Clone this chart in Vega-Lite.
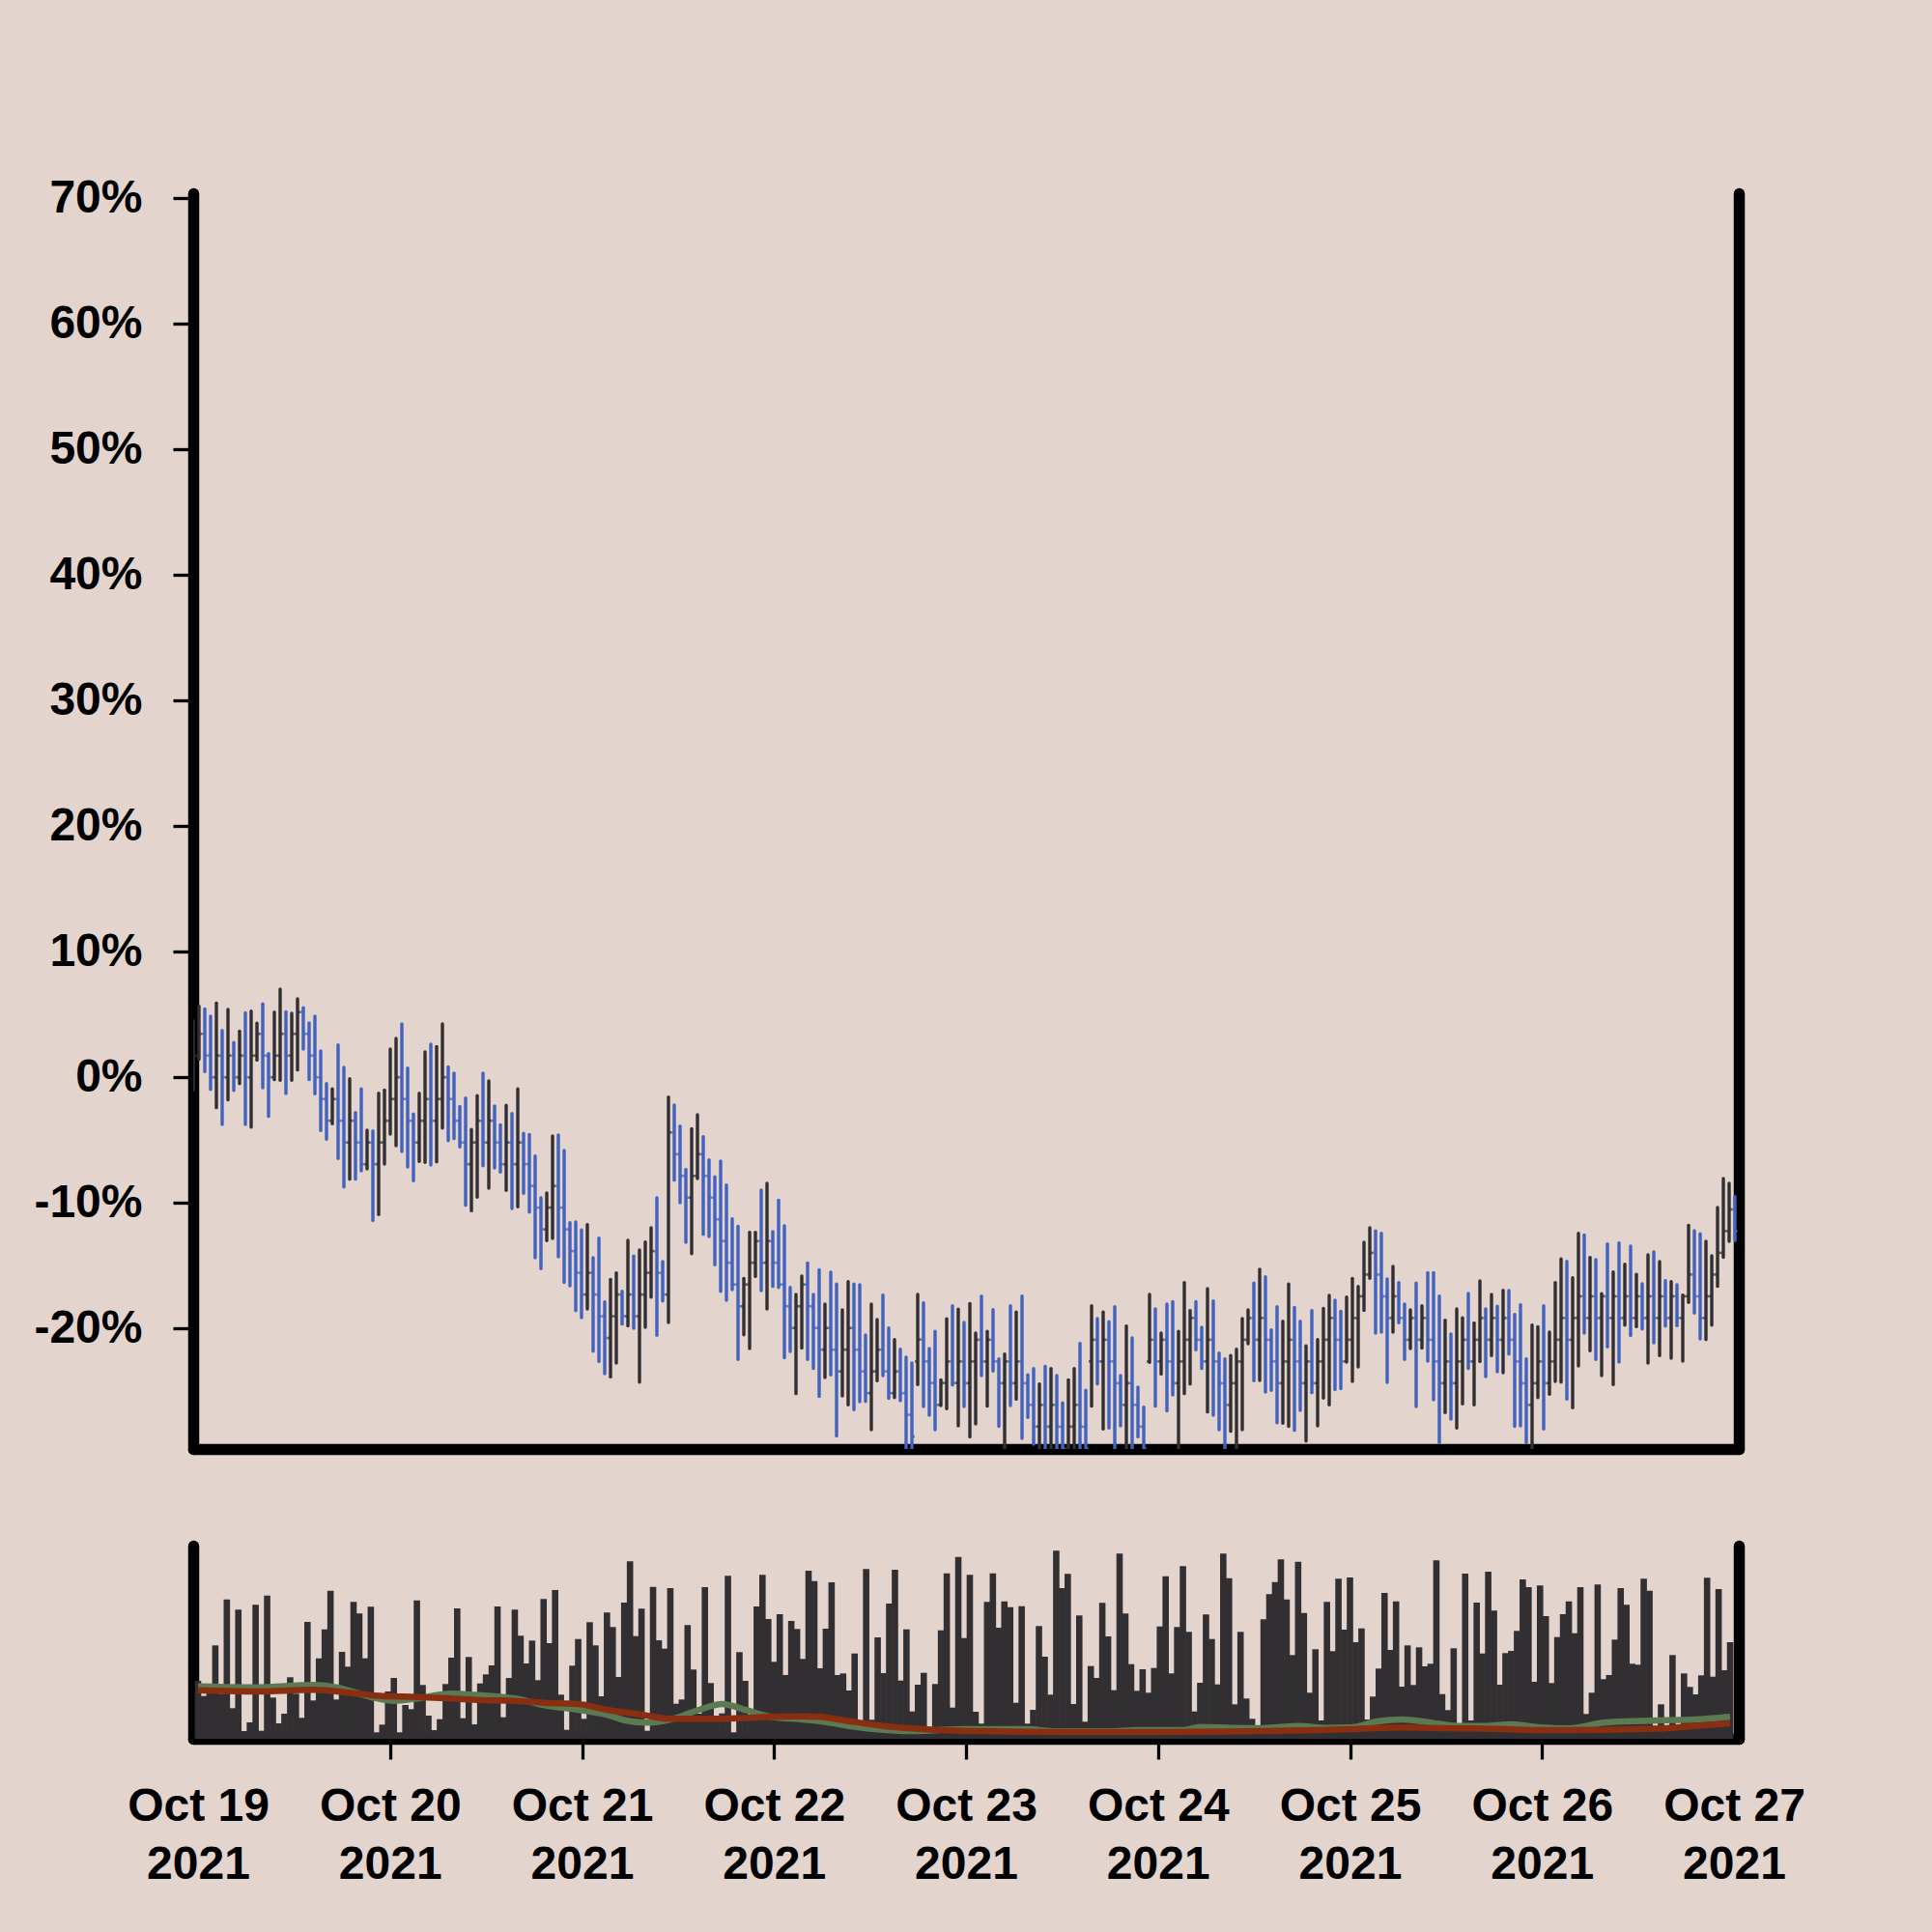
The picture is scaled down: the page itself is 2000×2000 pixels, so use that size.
{
"$schema": "https://vega.github.io/schema/vega-lite/v6.json",
"background": "#e3d4ce",
"padding": {"left": 34, "top": 181, "right": 200, "bottom": 200},
"bounds": "flush",
"spacing": 100,
"config": {
 "view": {"stroke": null},
 "font": "Liberation Sans",
 "axis": {"labelFont": "Liberation Sans", "labelFontSize": 48, "labelFontWeight": "bold", "labelColor": "#000000", "domainColor": "#000000", "domainWidth": 11.5, "domainCap": "round", "tickColor": "#000000", "tickWidth": 3.3, "tickSize": 21, "grid": false, "labelFlush": false, "labelOverlap": false}
},
"datasets": {
"bars": [
{"t":1634601600000,"o":0,"h":4.5,"l":-1.0,"c":1.73,"v":60},
{"t":1634604192000,"o":1.73,"h":5.66,"l":1.43,"c":3.46,"v":44.3},
{"t":1634606784000,"o":3.46,"h":5.45,"l":0.45,"c":1.73,"v":50},
{"t":1634609376000,"o":1.73,"h":4.86,"l":-0.96,"c":0,"v":96.7},
{"t":1634611968000,"o":0,"h":5.91,"l":-2.42,"c":1.73,"v":46.7},
{"t":1634614560000,"o":1.73,"h":3.73,"l":-3.75,"c":0,"v":144.3},
{"t":1634617152000,"o":0,"h":5.40,"l":-1.80,"c":1.73,"v":31.7},
{"t":1634619744000,"o":1.73,"h":2.76,"l":-1.04,"c":0,"v":133.7},
{"t":1634622336000,"o":0,"h":3.68,"l":-0.50,"c":1.73,"v":8},
{"t":1634624928000,"o":1.73,"h":5.14,"l":-3.75,"c":0,"v":17},
{"t":1634627520000,"o":0,"h":5.27,"l":-3.96,"c":1.73,"v":138.7},
{"t":1634630112000,"o":1.73,"h":4.30,"l":1.37,"c":3.46,"v":8.3},
{"t":1634632704000,"o":3.46,"h":5.84,"l":-0.83,"c":1.73,"v":148.3},
{"t":1634635296000,"o":1.73,"h":1.89,"l":-3.11,"c":0,"v":42.7},
{"t":1634637888000,"o":0,"h":5.19,"l":-0.19,"c":1.73,"v":16},
{"t":1634640480000,"o":1.73,"h":7.01,"l":-0.24,"c":3.46,"v":26},
{"t":1634643072000,"o":3.46,"h":5.22,"l":-1.29,"c":1.73,"v":63.7},
{"t":1634645664000,"o":1.73,"h":5.09,"l":-0.24,"c":3.46,"v":46.7},
{"t":1634648256000,"o":3.46,"h":6.25,"l":0.58,"c":5.19,"v":21.7},
{"t":1634650848000,"o":5.19,"h":5.53,"l":2.25,"c":3.46,"v":121},
{"t":1634653440000,"o":3.46,"h":4.32,"l":-0.19,"c":1.73,"v":39.7},
{"t":1634656032000,"o":1.73,"h":4.86,"l":-1.32,"c":0,"v":83.3},
{"t":1634658624000,"o":0,"h":2.09,"l":-4.24,"c":-1.73,"v":113.3},
{"t":1634661216000,"o":-1.73,"h":-0.50,"l":-4.93,"c":-3.46,"v":153.3},
{"t":1634663808000,"o":-3.46,"h":-0.93,"l":-3.70,"c":-1.73,"v":40.7},
{"t":1634666400000,"o":-1.73,"h":2.58,"l":-6.47,"c":-3.46,"v":90},
{"t":1634668992000,"o":-3.46,"h":0.78,"l":-8.73,"c":-5.19,"v":74.7},
{"t":1634671584000,"o":-5.19,"h":-0.11,"l":-8.11,"c":-3.46,"v":141.7},
{"t":1634674176000,"o":-3.46,"h":-2.81,"l":-8.11,"c":-5.19,"v":129.7},
{"t":1634676768000,"o":-5.19,"h":-0.93,"l":-7.45,"c":-6.92,"v":83.3},
{"t":1634679360000,"o":-6.92,"h":-4.22,"l":-7.29,"c":-5.19,"v":136.7},
{"t":1634681952000,"o":-5.19,"h":-4.27,"l":-11.40,"c":-6.92,"v":6.7},
{"t":1634684544000,"o":-6.92,"h":-1.27,"l":-10.93,"c":-5.19,"v":14.7},
{"t":1634687136000,"o":-5.19,"h":-1.01,"l":-6.91,"c":-3.46,"v":49},
{"t":1634689728000,"o":-3.46,"h":2.25,"l":-4.52,"c":-1.73,"v":63},
{"t":1634692320000,"o":-1.73,"h":3.09,"l":-5.45,"c":0,"v":6.7},
{"t":1634694912000,"o":0,"h":4.25,"l":-5.91,"c":-1.73,"v":35},
{"t":1634697504000,"o":-1.73,"h":0.73,"l":-7.14,"c":-3.46,"v":30.7},
{"t":1634700096000,"o":-3.46,"h":-2.93,"l":-8.24,"c":-5.19,"v":143.3},
{"t":1634702688000,"o":-5.19,"h":-1.27,"l":-6.70,"c":-3.46,"v":55.7},
{"t":1634705280000,"o":-3.46,"h":2.02,"l":-6.78,"c":-1.73,"v":24},
{"t":1634707872000,"o":-1.73,"h":2.63,"l":-6.98,"c":-3.46,"v":9},
{"t":1634710464000,"o":-3.46,"h":2.45,"l":-6.73,"c":-1.73,"v":20.3},
{"t":1634713056000,"o":-1.73,"h":4.25,"l":-4.04,"c":0,"v":56.7},
{"t":1634715648000,"o":0,"h":0.83,"l":-5.04,"c":-1.73,"v":84},
{"t":1634718240000,"o":-1.73,"h":0.32,"l":-4.88,"c":-3.46,"v":135},
{"t":1634720832000,"o":-3.46,"h":-2.32,"l":-5.55,"c":-5.19,"v":21.3},
{"t":1634723424000,"o":-5.19,"h":-1.65,"l":-10.19,"c":-6.92,"v":84.7},
{"t":1634726016000,"o":-6.92,"h":-4.16,"l":-10.63,"c":-5.19,"v":15},
{"t":1634728608000,"o":-5.19,"h":-1.47,"l":-9.55,"c":-3.46,"v":57.3},
{"t":1634731200000,"o":-3.46,"h":0.32,"l":-7.04,"c":-5.19,"v":66.7},
{"t":1634733792000,"o":-5.19,"h":-0.29,"l":-8.83,"c":-3.46,"v":76},
{"t":1634736384000,"o":-3.46,"h":-2.29,"l":-7.22,"c":-5.19,"v":137},
{"t":1634738976000,"o":-5.19,"h":-3.78,"l":-7.55,"c":-6.92,"v":22.3},
{"t":1634741568000,"o":-6.92,"h":-2.24,"l":-9.01,"c":-5.19,"v":63},
{"t":1634744160000,"o":-5.19,"h":-2.88,"l":-10.45,"c":-6.92,"v":133.7},
{"t":1634746752000,"o":-6.92,"h":-0.93,"l":-10.32,"c":-5.19,"v":106.7},
{"t":1634749344000,"o":-5.19,"h":-4.47,"l":-9.24,"c":-6.92,"v":78},
{"t":1634751936000,"o":-6.92,"h":-4.55,"l":-10.73,"c":-8.65,"v":101.7},
{"t":1634754528000,"o":-8.65,"h":-6.27,"l":-14.37,"c":-10.38,"v":60.7},
{"t":1634757120000,"o":-10.38,"h":-9.60,"l":-15.24,"c":-12.11,"v":144.7},
{"t":1634759712000,"o":-12.11,"h":-9.22,"l":-13.01,"c":-10.38,"v":99},
{"t":1634762304000,"o":-10.38,"h":-4.68,"l":-12.83,"c":-8.65,"v":154},
{"t":1634764896000,"o":-8.65,"h":-4.60,"l":-14.29,"c":-10.38,"v":45.7},
{"t":1634767488000,"o":-10.38,"h":-5.83,"l":-16.34,"c":-12.11,"v":9.3},
{"t":1634770080000,"o":-12.11,"h":-11.57,"l":-16.60,"c":-13.84,"v":75.7},
{"t":1634772672000,"o":-13.84,"h":-11.52,"l":-18.58,"c":-15.57,"v":103.3},
{"t":1634775264000,"o":-15.57,"h":-12.16,"l":-19.14,"c":-17.30,"v":20.7},
{"t":1634777856000,"o":-17.30,"h":-11.73,"l":-18.45,"c":-15.57,"v":120.7},
{"t":1634780448000,"o":-15.57,"h":-14.37,"l":-21.81,"c":-17.30,"v":96.7},
{"t":1634783040000,"o":-17.30,"h":-12.80,"l":-22.63,"c":-19.03,"v":44},
{"t":1634785632000,"o":-19.03,"h":-17.88,"l":-23.60,"c":-20.76,"v":130.7},
{"t":1634788224000,"o":-20.76,"h":-16.09,"l":-23.86,"c":-19.03,"v":115.7},
{"t":1634790816000,"o":-19.03,"h":-15.57,"l":-22.75,"c":-17.30,"v":64},
{"t":1634793408000,"o":-17.30,"h":-17.04,"l":-19.65,"c":-19.03,"v":141},
{"t":1634796000000,"o":-19.03,"h":-12.98,"l":-19.80,"c":-17.30,"v":183.7},
{"t":1634798592000,"o":-17.30,"h":-14.24,"l":-19.98,"c":-19.03,"v":106.3},
{"t":1634801184000,"o":-19.03,"h":-13.75,"l":-24.27,"c":-17.30,"v":134.7},
{"t":1634803776000,"o":-17.30,"h":-13.11,"l":-19.91,"c":-15.57,"v":8.3},
{"t":1634806368000,"o":-15.57,"h":-11.98,"l":-17.50,"c":-13.84,"v":157.3},
{"t":1634808960000,"o":-13.84,"h":-9.60,"l":-20.55,"c":-15.57,"v":102},
{"t":1634811552000,"o":-15.57,"h":-14.68,"l":-17.81,"c":-17.30,"v":93.3},
{"t":1634814144000,"o":-17.30,"h":-1.57,"l":-19.52,"c":-4.39,"v":156},
{"t":1634816736000,"o":-4.39,"h":-2.22,"l":-8.19,"c":-6.12,"v":36.3},
{"t":1634819328000,"o":-6.12,"h":-3.88,"l":-9.98,"c":-7.85,"v":40.7},
{"t":1634821920000,"o":-7.85,"h":-7.34,"l":-13.14,"c":-9.58,"v":117.7},
{"t":1634824512000,"o":-9.58,"h":-4.09,"l":-14.04,"c":-7.85,"v":71.7},
{"t":1634827104000,"o":-7.85,"h":-2.98,"l":-8.06,"c":-6.12,"v":26},
{"t":1634829696000,"o":-6.12,"h":-4.73,"l":-12.50,"c":-7.85,"v":157},
{"t":1634832288000,"o":-7.85,"h":-6.57,"l":-12.68,"c":-9.58,"v":57.7},
{"t":1634834880000,"o":-9.58,"h":-7.93,"l":-14.93,"c":-11.31,"v":23.3},
{"t":1634837472000,"o":-11.31,"h":-6.68,"l":-17.04,"c":-13.04,"v":26.3},
{"t":1634840064000,"o":-13.04,"h":-8.57,"l":-17.75,"c":-14.77,"v":168.7},
{"t":1634842656000,"o":-14.77,"h":-11.27,"l":-16.91,"c":-16.50,"v":6.7},
{"t":1634845248000,"o":-16.50,"h":-11.86,"l":-22.47,"c":-18.23,"v":89.7},
{"t":1634847840000,"o":-18.23,"h":-16.01,"l":-20.50,"c":-16.50,"v":60},
{"t":1634850432000,"o":-16.50,"h":-12.34,"l":-21.60,"c":-14.77,"v":23.3},
{"t":1634853024000,"o":-14.77,"h":-12.34,"l":-15.86,"c":-13.04,"v":137},
{"t":1634855616000,"o":-13.04,"h":-8.98,"l":-16.98,"c":-14.77,"v":169.7},
{"t":1634858208000,"o":-14.77,"h":-8.45,"l":-18.45,"c":-13.04,"v":124},
{"t":1634860800000,"o":-13.04,"h":-12.29,"l":-16.65,"c":-14.77,"v":79.7},
{"t":1634863392000,"o":-14.77,"h":-9.78,"l":-16.73,"c":-16.50,"v":129},
{"t":1634865984000,"o":-16.50,"h":-11.83,"l":-22.34,"c":-18.23,"v":66},
{"t":1634868576000,"o":-18.23,"h":-16.73,"l":-21.83,"c":-19.96,"v":122},
{"t":1634871168000,"o":-19.96,"h":-17.29,"l":-25.19,"c":-18.23,"v":113.7},
{"t":1634873760000,"o":-18.23,"h":-15.83,"l":-21.57,"c":-16.50,"v":82.7},
{"t":1634876352000,"o":-16.50,"h":-14.78,"l":-22.47,"c":-18.23,"v":174},
{"t":1634878944000,"o":-18.23,"h":-17.29,"l":-23.19,"c":-19.96,"v":163.3},
{"t":1634881536000,"o":-19.96,"h":-15.32,"l":-25.42,"c":-21.69,"v":73},
{"t":1634884128000,"o":-21.69,"h":-18.06,"l":-23.91,"c":-19.96,"v":114},
{"t":1634886720000,"o":-19.96,"h":-15.52,"l":-23.70,"c":-21.69,"v":162},
{"t":1634889312000,"o":-21.69,"h":-16.47,"l":-28.57,"c":-23.42,"v":66},
{"t":1634891904000,"o":-23.42,"h":-18.52,"l":-25.37,"c":-21.69,"v":67.7},
{"t":1634894496000,"o":-21.69,"h":-16.27,"l":-26.09,"c":-19.96,"v":50},
{"t":1634897088000,"o":-19.96,"h":-16.47,"l":-26.47,"c":-21.69,"v":88.3},
{"t":1634899680000,"o":-21.69,"h":-16.52,"l":-25.83,"c":-23.42,"v":13.3},
{"t":1634902272000,"o":-23.42,"h":-20.52,"l":-25.81,"c":-25.15,"v":175.7},
{"t":1634904864000,"o":-25.15,"h":-18.06,"l":-28.06,"c":-23.42,"v":19.7},
{"t":1634907456000,"o":-23.42,"h":-19.29,"l":-24.16,"c":-21.69,"v":105},
{"t":1634910048000,"o":-21.69,"h":-17.34,"l":-23.75,"c":-23.42,"v":68},
{"t":1634912640000,"o":-23.42,"h":-19.96,"l":-25.57,"c":-25.15,"v":140},
{"t":1634915232000,"o":-25.15,"h":-20.88,"l":-25.50,"c":-23.42,"v":175},
{"t":1634917824000,"o":-23.42,"h":-21.65,"l":-25.75,"c":-25.15,"v":60.3},
{"t":1634920416000,"o":-25.15,"h":-22.29,"l":-31.0,"c":-26.88,"v":113.3},
{"t":1634923008000,"o":-26.88,"h":-22.75,"l":-31.0,"c":-28.61,"v":28.3},
{"t":1634925600000,"o":-22.63,"h":-17.29,"l":-24.47,"c":-20.88,"v":56},
{"t":1634928192000,"o":-20.88,"h":-17.96,"l":-26.22,"c":-22.63,"v":68.3},
{"t":1634930784000,"o":-22.63,"h":-21.60,"l":-26.91,"c":-24.34,"v":10.7},
{"t":1634933376000,"o":-24.34,"h":-20.24,"l":-28.06,"c":-26.09,"v":56.7},
{"t":1634935968000,"o":-26.09,"h":-24.09,"l":-26.14,"c":-24.34,"v":112.3},
{"t":1634938560000,"o":-24.34,"h":-19.24,"l":-26.39,"c":-22.63,"v":171.3},
{"t":1634941152000,"o":-22.63,"h":-18.19,"l":-24.50,"c":-24.34,"v":32.3},
{"t":1634943744000,"o":-24.34,"h":-18.47,"l":-27.75,"c":-22.63,"v":188.3},
{"t":1634946336000,"o":-22.63,"h":-19.52,"l":-26.22,"c":-24.36,"v":104.3},
{"t":1634948928000,"o":-24.36,"h":-18.01,"l":-28.63,"c":-22.63,"v":169.7},
{"t":1634951520000,"o":-22.63,"h":-20.37,"l":-27.60,"c":-20.90,"v":28},
{"t":1634954112000,"o":-20.90,"h":-17.42,"l":-23.75,"c":-22.63,"v":15.7},
{"t":1634956704000,"o":-22.63,"h":-20.24,"l":-26.19,"c":-20.90,"v":141.7},
{"t":1634959296000,"o":-20.90,"h":-18.50,"l":-23.39,"c":-22.63,"v":171.3},
{"t":1634961888000,"o":-22.63,"h":-22.42,"l":-27.80,"c":-24.36,"v":115},
{"t":1634964480000,"o":-24.36,"h":-22.04,"l":-30.5,"c":-22.63,"v":142.3},
{"t":1634967072000,"o":-22.63,"h":-18.19,"l":-26.14,"c":-24.36,"v":136.3},
{"t":1634969664000,"o":-24.36,"h":-18.70,"l":-25.63,"c":-22.63,"v":37.3},
{"t":1634972256000,"o":-22.63,"h":-17.42,"l":-28.75,"c":-24.36,"v":137.3},
{"t":1634974848000,"o":-24.36,"h":-23.70,"l":-27.09,"c":-26.09,"v":15.7},
{"t":1634977440000,"o":-26.09,"h":-23.19,"l":-29.22,"c":-27.82,"v":30},
{"t":1634980032000,"o":-27.82,"h":-24.42,"l":-30.5,"c":-26.09,"v":116.7},
{"t":1634982624000,"o":-26.09,"h":-23.01,"l":-30.0,"c":-27.82,"v":85},
{"t":1634985216000,"o":-27.82,"h":-23.19,"l":-30.5,"c":-26.09,"v":45.7},
{"t":1634987808000,"o":-26.09,"h":-23.75,"l":-30.0,"c":-27.82,"v":194.7},
{"t":1634990400000,"o":-27.82,"h":-25.93,"l":-31.0,"c":-29.55,"v":156},
{"t":1634992992000,"o":-29.55,"h":-24.09,"l":-30.5,"c":-27.82,"v":170.7},
{"t":1634995584000,"o":-27.82,"h":-23.19,"l":-30.5,"c":-26.09,"v":36},
{"t":1634998176000,"o":-26.09,"h":-21.19,"l":-30.5,"c":-27.82,"v":127.7},
{"t":1635000768000,"o":-27.82,"h":-24.93,"l":-30.5,"c":-29.55,"v":17.7},
{"t":1635003360000,"o":-22.63,"h":-18.19,"l":-26.19,"c":-20.90,"v":75.3},
{"t":1635005952000,"o":-20.90,"h":-19.22,"l":-24.42,"c":-22.63,"v":63},
{"t":1635008544000,"o":-22.63,"h":-18.70,"l":-28.01,"c":-20.90,"v":140.7},
{"t":1635011136000,"o":-20.90,"h":-19.47,"l":-27.93,"c":-22.63,"v":106},
{"t":1635013728000,"o":-22.63,"h":-18.27,"l":-30.5,"c":-24.36,"v":50.3},
{"t":1635016320000,"o":-24.36,"h":-23.75,"l":-27.75,"c":-26.09,"v":191.7},
{"t":1635018912000,"o":-26.09,"h":-19.80,"l":-30.5,"c":-24.36,"v":129.7},
{"t":1635021504000,"o":-24.36,"h":-20.75,"l":-30.5,"c":-26.09,"v":77.3},
{"t":1635024096000,"o":-26.09,"h":-24.68,"l":-28.63,"c":-27.82,"v":49.7},
{"t":1635026688000,"o":-27.82,"h":-26.27,"l":-31.0,"c":-29.55,"v":72},
{"t":1635029280000,"o":-22.63,"h":-17.29,"l":-22.70,"c":-20.90,"v":47.7},
{"t":1635031872000,"o":-20.90,"h":-18.45,"l":-26.19,"c":-22.63,"v":73.3},
{"t":1635034464000,"o":-22.63,"h":-20.37,"l":-23.63,"c":-20.90,"v":116.3},
{"t":1635037056000,"o":-20.90,"h":-18.06,"l":-26.57,"c":-22.63,"v":168.3},
{"t":1635039648000,"o":-22.63,"h":-17.86,"l":-25.29,"c":-24.36,"v":67.7},
{"t":1635042240000,"o":-24.36,"h":-20.24,"l":-30.5,"c":-22.63,"v":115.7},
{"t":1635044832000,"o":-22.63,"h":-16.34,"l":-25.19,"c":-20.90,"v":178.7},
{"t":1635047424000,"o":-20.90,"h":-18.57,"l":-24.42,"c":-19.17,"v":110.7},
{"t":1635050016000,"o":-19.17,"h":-17.86,"l":-21.70,"c":-20.90,"v":28.3},
{"t":1635052608000,"o":-20.90,"h":-19.91,"l":-23.19,"c":-22.63,"v":58},
{"t":1635055200000,"o":-22.63,"h":-16.83,"l":-26.65,"c":-20.90,"v":128.7},
{"t":1635057792000,"o":-20.90,"h":-17.80,"l":-26.91,"c":-22.63,"v":103.3},
{"t":1635060384000,"o":-22.63,"h":-21.96,"l":-28.06,"c":-24.36,"v":56.3},
{"t":1635062976000,"o":-24.36,"h":-22.42,"l":-30.5,"c":-26.09,"v":191.7},
{"t":1635065568000,"o":-26.09,"h":-22.16,"l":-28.19,"c":-24.36,"v":166.3},
{"t":1635068160000,"o":-24.36,"h":-21.65,"l":-30.5,"c":-22.63,"v":35.7},
{"t":1635070752000,"o":-22.63,"h":-19.22,"l":-28.06,"c":-20.90,"v":110.7},
{"t":1635073344000,"o":-20.90,"h":-18.52,"l":-21.22,"c":-19.17,"v":41.7},
{"t":1635075936000,"o":-19.17,"h":-16.39,"l":-24.16,"c":-20.90,"v":20.7},
{"t":1635078528000,"o":-20.90,"h":-15.29,"l":-24.14,"c":-19.17,"v":12.3},
{"t":1635081120000,"o":-19.17,"h":-15.88,"l":-25.06,"c":-20.90,"v":123.7},
{"t":1635083712000,"o":-20.90,"h":-20.11,"l":-24.93,"c":-22.63,"v":149.7},
{"t":1635086304000,"o":-22.63,"h":-18.27,"l":-27.50,"c":-24.36,"v":162.3},
{"t":1635088896000,"o":-24.36,"h":-19.42,"l":-27.55,"c":-22.63,"v":185.7},
{"t":1635091488000,"o":-22.63,"h":-16.47,"l":-27.80,"c":-20.90,"v":144.3},
{"t":1635094080000,"o":-20.90,"h":-18.32,"l":-28.11,"c":-22.63,"v":86.7},
{"t":1635096672000,"o":-22.63,"h":-19.42,"l":-26.52,"c":-24.36,"v":183.3},
{"t":1635099264000,"o":-24.36,"h":-21.39,"l":-28.96,"c":-22.63,"v":130.3},
{"t":1635101856000,"o":-22.63,"h":-18.57,"l":-25.11,"c":-24.36,"v":47.7},
{"t":1635104448000,"o":-24.36,"h":-20.88,"l":-27.75,"c":-22.63,"v":92.7},
{"t":1635107040000,"o":-22.63,"h":-18.40,"l":-25.55,"c":-20.90,"v":19},
{"t":1635109632000,"o":-20.90,"h":-17.37,"l":-26.09,"c":-19.17,"v":141.7},
{"t":1635112224000,"o":-19.17,"h":-17.75,"l":-24.86,"c":-20.90,"v":90.7},
{"t":1635114816000,"o":-20.90,"h":-18.63,"l":-24.80,"c":-22.63,"v":165.7},
{"t":1635117408000,"o":-22.63,"h":-17.50,"l":-22.68,"c":-20.90,"v":113},
{"t":1635120000000,"o":-20.90,"h":-16.01,"l":-24.22,"c":-19.17,"v":167},
{"t":1635122592000,"o":-19.17,"h":-16.65,"l":-23.06,"c":-17.44,"v":100},
{"t":1635125184000,"o":-17.44,"h":-13.14,"l":-18.57,"c":-15.71,"v":114.3},
{"t":1635127776000,"o":-15.71,"h":-11.98,"l":-16.01,"c":-13.98,"v":20},
{"t":1635130368000,"o":-13.98,"h":-12.24,"l":-20.37,"c":-15.71,"v":43.7},
{"t":1635132960000,"o":-15.71,"h":-12.42,"l":-20.29,"c":-17.44,"v":72.7},
{"t":1635135552000,"o":-17.44,"h":-16.06,"l":-24.29,"c":-19.17,"v":151},
{"t":1635138144000,"o":-19.17,"h":-15.06,"l":-20.29,"c":-17.44,"v":92},
{"t":1635140736000,"o":-17.44,"h":-16.34,"l":-19.55,"c":-19.17,"v":142.3},
{"t":1635143328000,"o":-19.17,"h":-18.06,"l":-22.47,"c":-20.90,"v":54},
{"t":1635145920000,"o":-20.90,"h":-18.52,"l":-21.60,"c":-19.17,"v":96.7},
{"t":1635148512000,"o":-19.17,"h":-16.39,"l":-26.22,"c":-20.90,"v":55.7},
{"t":1635151104000,"o":-20.90,"h":-18.19,"l":-21.57,"c":-19.17,"v":94.7},
{"t":1635153696000,"o":-19.17,"h":-15.55,"l":-22.60,"c":-20.90,"v":75},
{"t":1635156288000,"o":-20.90,"h":-15.55,"l":-25.68,"c":-22.63,"v":77.7},
{"t":1635158880000,"o":-22.63,"h":-17.42,"l":-29.09,"c":-24.36,"v":184.7},
{"t":1635161472000,"o":-24.36,"h":-19.34,"l":-26.70,"c":-22.63,"v":46.3},
{"t":1635164064000,"o":-22.63,"h":-20.45,"l":-27.22,"c":-24.36,"v":29.7},
{"t":1635166656000,"o":-24.36,"h":-18.45,"l":-27.93,"c":-22.63,"v":93.7},
{"t":1635169248000,"o":-22.63,"h":-19.16,"l":-26.01,"c":-20.90,"v":13.3},
{"t":1635171840000,"o":-20.90,"h":-17.21,"l":-23.19,"c":-22.63,"v":171},
{"t":1635174432000,"o":-22.63,"h":-19.55,"l":-26.09,"c":-20.90,"v":19},
{"t":1635177024000,"o":-20.90,"h":-16.22,"l":-22.63,"c":-19.17,"v":141},
{"t":1635179616000,"o":-19.17,"h":-18.45,"l":-23.83,"c":-20.90,"v":88.3},
{"t":1635182208000,"o":-20.90,"h":-17.29,"l":-22.16,"c":-19.17,"v":173},
{"t":1635184800000,"o":-19.17,"h":-18.24,"l":-23.45,"c":-20.90,"v":132.7},
{"t":1635187392000,"o":-20.90,"h":-16.96,"l":-23.52,"c":-19.17,"v":56},
{"t":1635189984000,"o":-19.17,"h":-16.98,"l":-22.04,"c":-20.90,"v":88.7},
{"t":1635192576000,"o":-20.90,"h":-18.88,"l":-27.80,"c":-22.63,"v":91},
{"t":1635195168000,"o":-22.63,"h":-18.11,"l":-27.75,"c":-24.36,"v":111.7},
{"t":1635197760000,"o":-24.36,"h":-22.42,"l":-29.09,"c":-26.09,"v":165},
{"t":1635200352000,"o":-26.09,"h":-19.73,"l":-29.8,"c":-24.36,"v":157},
{"t":1635202944000,"o":-24.36,"h":-19.86,"l":-25.50,"c":-22.63,"v":59},
{"t":1635205536000,"o":-22.63,"h":-18.19,"l":-28.01,"c":-24.36,"v":158.7},
{"t":1635208128000,"o":-24.36,"h":-20.29,"l":-25.24,"c":-22.63,"v":127},
{"t":1635210720000,"o":-22.63,"h":-16.34,"l":-24.22,"c":-20.90,"v":57.7},
{"t":1635213312000,"o":-20.90,"h":-14.47,"l":-24.27,"c":-19.17,"v":105.3},
{"t":1635215904000,"o":-19.17,"h":-14.65,"l":-25.63,"c":-20.90,"v":129},
{"t":1635218496000,"o":-20.90,"h":-15.96,"l":-26.32,"c":-19.17,"v":142.3},
{"t":1635221088000,"o":-19.17,"h":-12.42,"l":-22.99,"c":-17.44,"v":109.3},
{"t":1635223680000,"o":-17.44,"h":-12.55,"l":-20.37,"c":-19.17,"v":157},
{"t":1635226272000,"o":-19.17,"h":-14.34,"l":-21.78,"c":-17.44,"v":25.7},
{"t":1635228864000,"o":-17.44,"h":-14.52,"l":-22.47,"c":-19.17,"v":47.7},
{"t":1635231456000,"o":-19.17,"h":-17.24,"l":-23.75,"c":-17.44,"v":159.7},
{"t":1635234048000,"o":-17.44,"h":-13.27,"l":-21.47,"c":-19.17,"v":61.7},
{"t":1635236640000,"o":-19.17,"h":-15.50,"l":-24.47,"c":-17.44,"v":66},
{"t":1635239232000,"o":-17.44,"h":-13.19,"l":-22.68,"c":-19.17,"v":102.7},
{"t":1635241824000,"o":-19.17,"h":-14.88,"l":-19.73,"c":-17.44,"v":156},
{"t":1635244416000,"o":-17.44,"h":-13.45,"l":-20.57,"c":-19.17,"v":138.7},
{"t":1635247008000,"o":-19.17,"h":-15.70,"l":-19.86,"c":-17.44,"v":77.7},
{"t":1635249600000,"o":-17.44,"h":-16.45,"l":-20.04,"c":-19.17,"v":76.7},
{"t":1635252192000,"o":-19.17,"h":-14.14,"l":-22.75,"c":-17.44,"v":165.7},
{"t":1635254784000,"o":-17.44,"h":-13.91,"l":-21.14,"c":-19.17,"v":153.3},
{"t":1635257376000,"o":-19.17,"h":-14.68,"l":-22.16,"c":-17.44,"v":13.3},
{"t":1635259968000,"o":-17.44,"h":-16.19,"l":-19.81,"c":-19.17,"v":35.7},
{"t":1635262560000,"o":-19.17,"h":-16.27,"l":-22.37,"c":-17.44,"v":10},
{"t":1635265152000,"o":-17.44,"h":-16.52,"l":-19.78,"c":-19.17,"v":86.7},
{"t":1635267744000,"o":-19.17,"h":-17.34,"l":-22.60,"c":-17.44,"v":13.3},
{"t":1635270336000,"o":-17.44,"h":-11.78,"l":-17.93,"c":-15.71,"v":67.7},
{"t":1635272928000,"o":-15.71,"h":-12.22,"l":-18.78,"c":-17.44,"v":53.7},
{"t":1635275520000,"o":-17.44,"h":-12.47,"l":-20.83,"c":-19.17,"v":46},
{"t":1635278112000,"o":-19.17,"h":-13.06,"l":-20.88,"c":-17.44,"v":65.7},
{"t":1635280704000,"o":-17.44,"h":-14.22,"l":-19.73,"c":-15.71,"v":166.7},
{"t":1635283296000,"o":-15.71,"h":-10.37,"l":-16.65,"c":-13.98,"v":64.3},
{"t":1635285888000,"o":-13.98,"h":-8.06,"l":-14.34,"c":-12.25,"v":155},
{"t":1635288480000,"o":-12.25,"h":-8.45,"l":-13.06,"c":-10.52,"v":71},
{"t":1635291072000,"o":-10.52,"h":-9.5,"l":-13.0,"c":-12.25,"v":100}
],
"green": [
{"t":1634601600000,"v":54.3},{"t":1634627520000,"v":53.3},{"t":1634653440000,"v":55.7},{"t":1634663808000,"v":53.3},
{"t":1634679360000,"v":43.3},{"t":1634689728000,"v":39.3},{"t":1634700096000,"v":41.7},{"t":1634715648000,"v":46.7},
{"t":1634728608000,"v":45},{"t":1634744160000,"v":41.7},{"t":1634757120000,"v":35},{"t":1634772672000,"v":30},
{"t":1634785632000,"v":25},{"t":1634793408000,"v":19.3},{"t":1634803776000,"v":16.7},{"t":1634814144000,"v":20},
{"t":1634827104000,"v":30},{"t":1634837472000,"v":36},{"t":1634847840000,"v":30},{"t":1634858208000,"v":23.3},
{"t":1634873760000,"v":20},{"t":1634881536000,"v":18.3},{"t":1634894496000,"v":13.3},{"t":1634910048000,"v":9.3},
{"t":1634923008000,"v":8},{"t":1634946336000,"v":10},{"t":1634959296000,"v":10},{"t":1634974848000,"v":10},
{"t":1634987808000,"v":7.7},{"t":1635011136000,"v":7.7},{"t":1635024096000,"v":9},{"t":1635044832000,"v":9},
{"t":1635052608000,"v":12.3},{"t":1635068160000,"v":11.3},{"t":1635081120000,"v":11},{"t":1635096672000,"v":13.3},
{"t":1635109632000,"v":11.3},{"t":1635120000000,"v":11.7},{"t":1635132960000,"v":18.3},{"t":1635143328000,"v":20},
{"t":1635161472000,"v":15},{"t":1635169248000,"v":13.3},{"t":1635182208000,"v":13.3},{"t":1635192576000,"v":15},
{"t":1635205536000,"v":11.7},{"t":1635218496000,"v":10.7},{"t":1635234048000,"v":16.7},{"t":1635247008000,"v":18.3},
{"t":1635262560000,"v":19.3},{"t":1635275520000,"v":20},{"t":1635291072000,"v":22.7}
],
"red": [
{"t":1634601600000,"v":50.3},{"t":1634627520000,"v":49},{"t":1634653440000,"v":50.7},{"t":1634671584000,"v":47.3},
{"t":1634684544000,"v":44.3},{"t":1634700096000,"v":43.3},{"t":1634715648000,"v":41.7},{"t":1634728608000,"v":40},
{"t":1634744160000,"v":39.3},{"t":1634757120000,"v":37.3},{"t":1634772672000,"v":36},{"t":1634785632000,"v":30},
{"t":1634801184000,"v":25},{"t":1634814144000,"v":20.7},{"t":1634829696000,"v":20.7},{"t":1634845248000,"v":21.3},
{"t":1634858208000,"v":22.7},{"t":1634873760000,"v":23.3},{"t":1634881536000,"v":22.7},{"t":1634894496000,"v":18.3},
{"t":1634910048000,"v":13.3},{"t":1634923008000,"v":10.7},{"t":1634946336000,"v":8.3},{"t":1634990400000,"v":7},
{"t":1635034464000,"v":7},{"t":1635073344000,"v":7.7},{"t":1635088896000,"v":8.3},{"t":1635104448000,"v":9},
{"t":1635120000000,"v":10},{"t":1635132960000,"v":11.3},{"t":1635145920000,"v":11.7},{"t":1635161472000,"v":11},
{"t":1635174432000,"v":10.7},{"t":1635189984000,"v":10},{"t":1635205536000,"v":9},{"t":1635218496000,"v":9},
{"t":1635234048000,"v":9.3},{"t":1635247008000,"v":10},{"t":1635262560000,"v":11},{"t":1635275520000,"v":13.3},
{"t":1635291072000,"v":16}
]
},
"vconcat": [
{
 "width": 1600, "height": 1300,
 "data": {"name": "bars"},
 "encoding": {
  "x": {"field": "t", "type": "temporal", "scale": {"type": "utc", "domain": [1634601600000, 1635292800000]}, "axis": {"orient": "bottom", "labels": false, "ticks": false, "title": null}}
 },
 "layer": [
  {"mark": {"type": "rule", "strokeWidth": 3.4, "strokeCap": "round", "clip": true},
   "encoding": {
    "y": {"field": "l", "type": "quantitative", "scale": {"domain": [-29.6, 70.4], "nice": false, "zero": false}, "axis": {"orient": "left", "values": [-20, -10, 0, 10, 20, 30, 40, 50, 60, 70], "labelExpr": "datum.value + '%'", "labelPadding": 32, "title": null}},
    "y2": {"field": "h"},
    "color": {"condition": {"test": "datum.c >= datum.o", "value": "#312f31"}, "value": "#4262be"}
   }},
  {"mark": {"type": "tick", "orient": "horizontal", "size": 3, "thickness": 2.6, "xOffset": -1.5, "clip": true},
   "encoding": {
    "y": {"field": "o", "type": "quantitative", "axis": null},
    "color": {"condition": {"test": "datum.c >= datum.o", "value": "#312f31"}, "value": "#4262be"}
   }},
  {"mark": {"type": "tick", "orient": "horizontal", "size": 3, "thickness": 2.6, "xOffset": 1.5, "clip": true},
   "encoding": {
    "y": {"field": "c", "type": "quantitative", "axis": {"orient": "right", "labels": false, "ticks": false, "title": null}},
    "color": {"condition": {"test": "datum.c >= datum.o", "value": "#312f31"}, "value": "#4262be"}
   }}
 ],
 "resolve": {"axis": {"y": "independent"}}
},
{
 "width": 1600, "height": 200,
 "encoding": {
  "x": {"field": "t", "type": "temporal", "scale": {"type": "utc", "domain": [1634601600000, 1635292800000]},
        "axis": {"orient": "bottom", "values": [1634601600000, 1634688000000, 1634774400000, 1634860800000, 1634947200000, 1635033600000, 1635120000000, 1635206400000, 1635292800000],
                 "labelExpr": "[utcFormat(datum.value, '%b %d'), utcFormat(datum.value, '%Y')]", "labelLineHeight": 60, "labelPadding": 25, "title": null,
                 "tickOpacity": {"condition": {"test": "time(datum.value) <= 1634601600000 || time(datum.value) >= 1635292800000", "value": 0}, "value": 1}}}
 },
 "layer": [
  {"data": {"name": "bars"}, "mark": {"type": "bar", "width": 6.6, "color": "#312f31"},
   "encoding": {"y": {"field": "v", "type": "quantitative", "scale": {"domain": [0, 200], "nice": false}, "axis": {"orient": "left", "labels": false, "ticks": false, "title": null}}}},
  {"data": {"name": "green"}, "mark": {"type": "line", "color": "#5b7a52", "strokeWidth": 6.5, "interpolate": "monotone"},
   "encoding": {"y": {"field": "v", "type": "quantitative", "axis": null}}},
  {"data": {"name": "red"}, "mark": {"type": "line", "color": "#8a2e12", "strokeWidth": 6.5, "interpolate": "monotone"},
   "encoding": {"y": {"field": "v", "type": "quantitative", "axis": {"orient": "right", "labels": false, "ticks": false, "title": null}}}}
 ],
 "resolve": {"axis": {"y": "independent"}}
}
]
}
